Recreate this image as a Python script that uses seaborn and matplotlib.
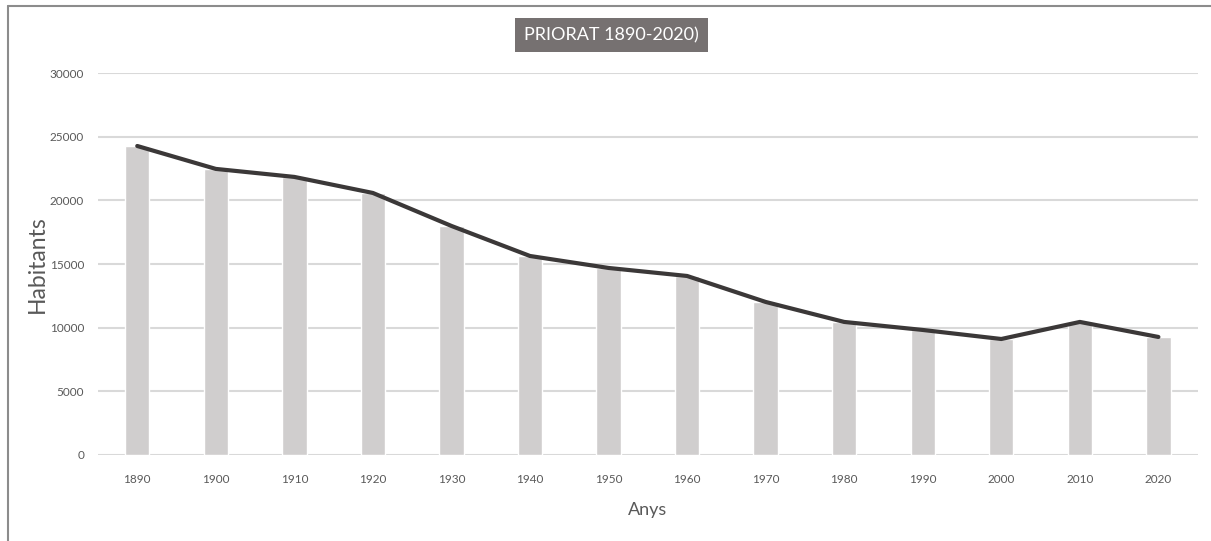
import numpy as np
import pandas as pd
import matplotlib
matplotlib.use('Agg')
import matplotlib.pyplot as plt
from matplotlib.lines import Line2D
import seaborn as sns

# dades
anys = [1890, 1900, 1910, 1920, 1930, 1940, 1950, 1960, 1970, 1980, 1990, 2000, 2010, 2020]
habitants = [24270, 22470, 21840, 20580, 17990, 15630, 14690, 14060, 12020, 10450, 9820, 9110, 10450, 9270]
y_ticks = [0, 5000, 10000, 15000, 20000, 25000, 30000]

df = pd.DataFrame({'Anys': [str(a) for a in anys], 'Habitants': habitants})
df['pos'] = np.arange(len(df))

sns.set_style('white')
plt.rcParams['font.family'] = ['Lato', 'DejaVu Sans']

fig = plt.figure(figsize=(12.11, 5.41), dpi=100)
ax = fig.add_axes([0.0809, 0.159, 0.9081, 0.706])

sns.barplot(data=df, x='Anys', y='Habitants', color='#d0cece', width=0.31,
            saturation=1, ax=ax, zorder=2)
sns.lineplot(data=df, x='pos', y='Habitants', color='#3b3838', lw=3,
             ax=ax, zorder=3)

ax.set_xlim(-0.5, len(anys) - 0.5)
ax.set_ylim(0, 30000)
ax.set_yticks(y_ticks)
ax.set_yticklabels([str(t) for t in y_ticks])
ax.yaxis.grid(True, color='#d9d9d9', lw=1.5, zorder=0)
ax.set_axisbelow(True)
for s in ax.spines.values():
    s.set_visible(False)
ax.tick_params(axis='both', length=0, labelsize=8.5, labelcolor='#595959')
ax.tick_params(axis='x', pad=14)
ax.tick_params(axis='y', pad=10)

ax.set_xlabel('Anys', fontsize=13, color='#595959', labelpad=12)
ax.set_ylabel('Habitants', fontsize=16.5, color='#595959', labelpad=1)

fig.text(0.505, 0.935, 'PRIORAT 1890-2020)', ha='center', va='center',
         fontsize=13, color='white',
         bbox=dict(boxstyle='square,pad=0.5', fc='#767171', ec='none'))

# marc
fig.add_artist(Line2D([0.0066, 1.0], [0.989, 0.989], color='#8c8c8c', lw=1.5))
fig.add_artist(Line2D([0.0066, 0.0066], [0.0, 0.989], color='#8c8c8c', lw=1.5))

fig.savefig('out.png', dpi=100)
